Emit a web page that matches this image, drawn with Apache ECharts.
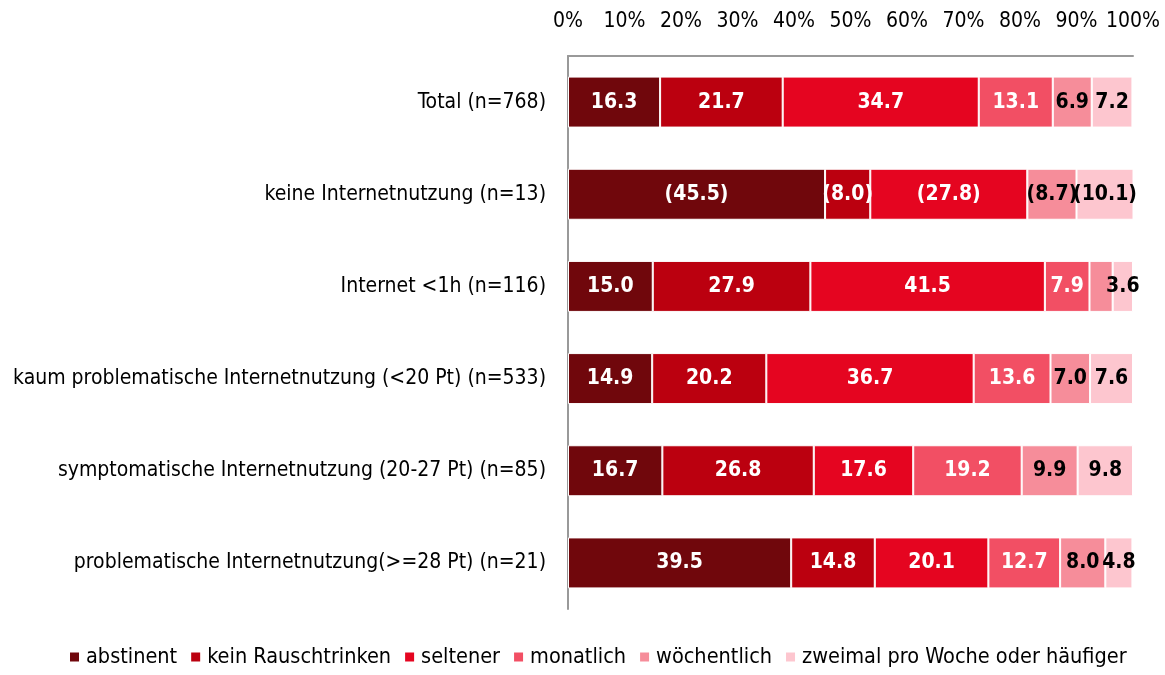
<!DOCTYPE html>
<html lang="de">
<head>
    <meta charset="UTF-8">
    <title>Trinkverhalten nach Internetnutzung</title>
    <script src="https://cdn.jsdelivr.net/npm/echarts@6/dist/echarts.min.js"></script>
    <style>
        html, body { margin: 0; padding: 0; background: #fff; }
        #chart { width: 1165px; height: 675px; }
    </style>
</head>
<body>
    <div id="chart"></div>

    <script>
        // Kategorien (von oben nach unten)
        const categories = [
            'Total (n=768)',
            'keine Internetnutzung (n=13)',
            'Internet <1h (n=116)',
            'kaum problematische Internetnutzung (<20 Pt) (n=533)',
            'symptomatische Internetnutzung (20-27 Pt) (n=85)',
            'problematische Internetnutzung(>=28 Pt) (n=21)'
        ];

        const seriesNames = ['abstinent', 'kein Rauschtrinken', 'seltener', 'monatlich', 'wöchentlich', 'zweimal pro Woche oder häufiger'];

        // Werte in % je Serie
        const abstinent = [16.3, 45.5, 15.0, 14.9, 16.7, 39.5];
        const keinRausch = [21.7, 8.0, 27.9, 20.2, 26.8, 14.8];
        const seltener = [34.7, 27.8, 41.5, 36.7, 17.6, 20.1];
        const monatlich = [13.1, 0, 7.9, 13.6, 19.2, 12.7];
        const woechentlich = [6.9, 8.7, 4.1, 7.0, 9.9, 8.0];
        const zweimal = [7.2, 10.1, 3.6, 7.6, 9.8, 4.8];

        const xTicks = [0, 10, 20, 30, 40, 50, 60, 70, 80, 90, 100];

        const colors = ['#70070c', '#bb000f', '#e50520', '#f24f64', '#f68d9a', '#fdc6cf'];
        const labelColors = ['#fff', '#fff', '#fff', '#fff', '#000', '#000'];

        // Zeile mit kleiner Fallzahl -> Werte in Klammern
        const smallN = 1;
        // Segmente ohne Beschriftung: [Serie, Zeile]
        const hidden = [[4, 2]];

        const allValues = [abstinent, keinRausch, seltener, monatlich, woechentlich, zweimal];
        const font = '"DejaVu Sans Condensed", "Liberation Sans Narrow", "Liberation Sans", Arial, sans-serif';

        const series = allValues.map((vals, si) => ({
            name: seriesNames[si],
            type: 'bar',
            stack: 'total',
            barWidth: 51,
            itemStyle: { color: colors[si], borderColor: '#fff', borderWidth: 1 },
            label: {
                show: true,
                position: 'inside',
                color: labelColors[si],
                fontFamily: font,
                fontWeight: 'bold',
                fontSize: 21,
                formatter: p => {
                    if (!p.value) return '';
                    const t = p.value.toFixed(1);
                    return p.dataIndex === smallN ? '(' + t + ')' : t;
                }
            },
            data: vals.map((v, ci) => {
                const hide = hidden.some(h => h[0] === si && h[1] === ci);
                return hide ? { value: v, label: { show: false } } : v;
            })
        }));

        const chart = echarts.init(document.getElementById('chart'));
        chart.setOption({
            animation: false,
            textStyle: { fontFamily: font },
            grid: { left: 568, right: 32, top: 56, bottom: 66 },
            legend: {
                bottom: 2,
                left: 63,
                itemWidth: 11,
                itemHeight: 11,
                itemGap: 12,
                icon: 'rect',
                textStyle: { fontSize: 21.5, color: '#000', fontFamily: font, padding: [0, 0, 0, 1] },
                data: seriesNames
            },
            xAxis: {
                type: 'value',
                position: 'top',
                min: xTicks[0],
                max: xTicks[xTicks.length - 1],
                interval: 10,
                axisLine: { show: true, lineStyle: { color: '#999', width: 2 } },
                axisTick: { show: false },
                splitLine: { show: false },
                axisLabel: {
                    margin: 24,
                    color: '#000',
                    fontSize: 21,
                    fontFamily: font,
                    formatter: '{value}%'
                }
            },
            yAxis: {
                type: 'category',
                inverse: true,
                data: categories,
                axisLine: { show: true, lineStyle: { color: '#999', width: 2 } },
                axisTick: { show: false },
                axisLabel: {
                    margin: 22,
                    color: '#000',
                    fontSize: 21,
                    fontFamily: font
                }
            },
            series: series
        });
    </script>
</body>
</html>
